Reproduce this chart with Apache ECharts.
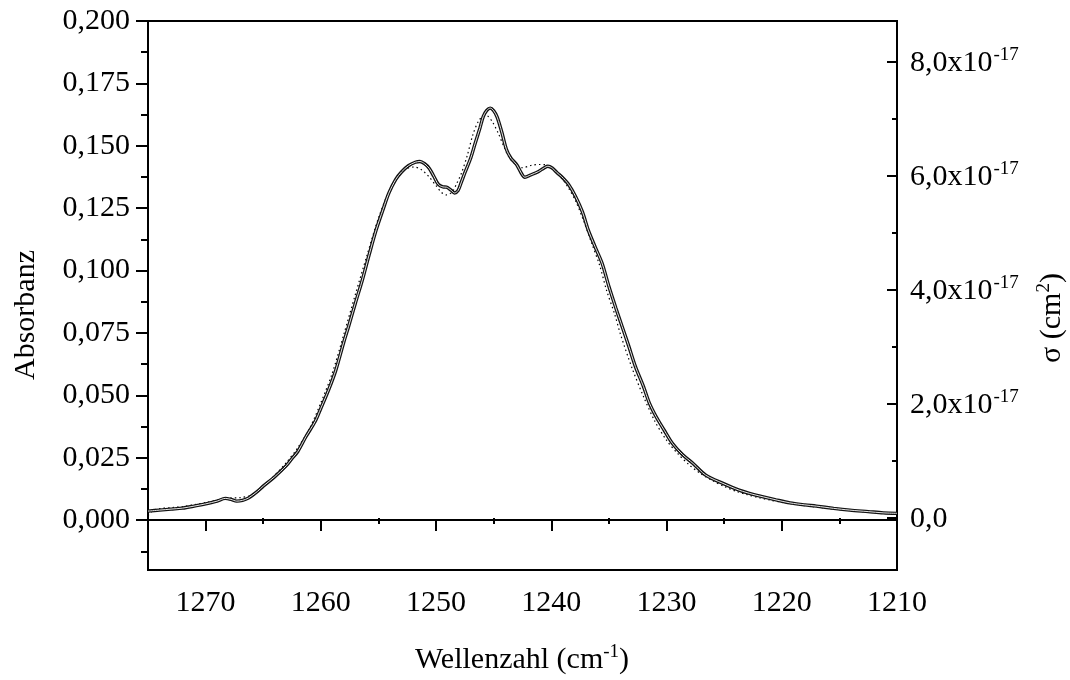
<!DOCTYPE html>
<html><head><meta charset="utf-8">
<script src="https://cdn.jsdelivr.net/npm/echarts@6/dist/echarts.min.js"></script>
<style>html,body{margin:0;padding:0;background:#fff}#c{width:1070px;height:680px}</style>
</head><body><div id="c"></div>
<script>
// Measured spectrum (solid, double line)
const wnSolid = [1275,1274,1273,1272,1271,1270,1269,1268.3,1267.8,1267.3,1266.8,1266.3,1265.5,1265,1264,1263,1262.5,1262,1261.3,1260.5,1260,1259.3,1258.7,1258,1257.6,1257,1256.4,1255.8,1255.2,1254.6,1254.1,1253.5,1253,1252.4,1251.8,1251.4,1251,1250.6,1250.2,1249.8,1249.4,1249.1,1248.7,1248.4,1248.1,1247.8,1247.5,1247,1246.6,1246.2,1245.9,1245.6,1245.3,1245,1244.7,1244.3,1243.9,1243.5,1243,1242.6,1242.3,1241.8,1241.1,1240.6,1240.3,1239.9,1239.5,1239.1,1238.5,1237.9,1237.3,1236.8,1236.2,1235.6,1235,1234.4,1233.85,1233.3,1232.7,1232,1231.5,1230.9,1230.2,1229.5,1228.6,1227.7,1226.6,1225.1,1223.7,1222.5,1221.6,1220.5,1219.3,1218,1217,1215.5,1214.1,1212.5,1211.2,1210];
const absSolid = [0.0036,0.0040,0.0044,0.0048,0.0056,0.0065,0.0076,0.0087,0.0083,0.0076,0.0079,0.0088,0.0115,0.0136,0.0174,0.0218,0.0247,0.0275,0.0334,0.0395,0.0448,0.0525,0.0601,0.0715,0.0775,0.0870,0.0962,0.1065,0.1163,0.1245,0.1310,0.1365,0.1395,0.1420,0.1434,0.1437,0.1428,0.1410,0.1378,0.1345,0.1335,0.1334,0.1322,0.1311,0.1320,0.1355,0.1392,0.1450,0.1511,0.1570,0.1618,0.1642,0.1651,0.1640,0.1615,0.1555,0.1486,0.1450,0.1424,0.1390,0.1374,0.1383,0.1397,0.1412,0.1418,0.1410,0.1392,0.1376,0.1345,0.1297,0.1235,0.1163,0.1095,0.1030,0.0936,0.0850,0.0775,0.0700,0.0615,0.0535,0.0470,0.0414,0.0360,0.0308,0.0262,0.0227,0.0180,0.0147,0.0120,0.0103,0.0093,0.0081,0.0069,0.0061,0.0056,0.0047,0.0040,0.0034,0.0029,0.0027];
// Second spectrum (dotted)
const wnDot = [1275,1274.5,1274,1273,1272,1271,1270,1269,1268,1267,1266,1265,1264,1263,1262,1261,1260,1259,1258,1257,1256,1255,1254,1253,1252.5,1251.9,1251.3,1250.6,1250,1249.5,1249.1,1248.6,1248.2,1247.8,1247.3,1246.8,1246.3,1245.8,1245.5,1245.1,1244.6,1244.1,1243.7,1243.1,1242.5,1241.7,1241,1240.5,1240,1239.1,1238.5,1237.9,1237.2,1236.5,1235.8,1235.2,1234.5,1234,1233,1232,1231,1230,1229,1228,1227,1226,1225,1224,1223,1222,1221,1220,1219,1218,1217,1216,1215,1214,1213,1212,1211,1210];
const absDot = [0.0018,0.0040,0.0046,0.0050,0.0054,0.0062,0.0070,0.0080,0.0088,0.0090,0.0100,0.0135,0.0180,0.0230,0.0290,0.0365,0.0470,0.0590,0.0745,0.0905,0.1060,0.1210,0.1325,0.1393,0.1410,0.1415,0.1405,0.1375,0.1340,0.1312,0.1303,0.1315,0.1350,0.1390,0.1460,0.1545,0.1600,0.1620,0.1618,0.1595,0.1550,0.1495,0.1457,0.1425,0.1412,0.1422,0.1425,0.1424,0.1410,0.1370,0.1330,0.1280,0.1200,0.1110,0.1020,0.0920,0.0825,0.0745,0.0610,0.0495,0.0395,0.0320,0.0265,0.0220,0.0185,0.0158,0.0135,0.0116,0.0102,0.0090,0.0080,0.0071,0.0064,0.0058,0.0052,0.0047,0.0042,0.0038,0.0034,0.0031,0.0028,0.0026];

const xMajor = [1270,1260,1250,1240,1230,1220,1210];
const xMinor = [1275,1265,1255,1245,1235,1225,1215];
const yMajor = [0,0.025,0.05,0.075,0.1,0.125,0.15,0.175,0.2];
const yMinor = [-0.0125,0.0125,0.0375,0.0625,0.0875,0.1125,0.1375,0.1625,0.1875];
const sMajor = [0,2,4,6,8];       // sigma ticks, units of 1e-17 cm^2
const sMinor = [1,3,5,7];

const FONT = '"Liberation Serif","Times New Roman",serif';
const FS = 30;
const SS = 19;
const LH = 33;
const chart = echarts.init(document.getElementById('c'));
const pairs = (a,b)=>a.map((v,i)=>[v,b[i]]);
const hide = {axisLine:{show:false},axisLabel:{show:false},splitLine:{show:false}};

chart.setOption({
  animation:false,
  backgroundColor:'#fff',
  grid:{left:148,right:173,top:21,bottom:110,show:true,borderColor:'#000',borderWidth:2,backgroundColor:'transparent'},
  xAxis:[
    {type:'value',inverse:true,min:1210,max:1275,
     axisLine:{show:true,lineStyle:{color:'#000',width:2}},
     axisTick:{show:true,customValues:xMajor,length:11,inside:false,lineStyle:{color:'#000',width:2}},
     axisLabel:{customValues:xMajor,margin:18,color:'#000',fontFamily:FONT,fontSize:FS,formatter:v=>String(v)},
     splitLine:{show:false}},
    Object.assign({type:'value',inverse:true,min:1210,max:1275,position:'bottom',
     axisTick:{show:true,customValues:xMinor,length:6,inside:false,lineStyle:{color:'#000',width:2}}},hide)
  ],
  yAxis:[
    {type:'value',min:-0.02,max:0.2,position:'left',
     axisLine:{show:true,lineStyle:{color:'#000',width:2}},
     axisTick:{show:true,customValues:yMajor,length:12,inside:false,lineStyle:{color:'#000',width:2}},
     axisLabel:{customValues:yMajor,margin:18,color:'#000',fontFamily:FONT,fontSize:FS,
       formatter:v=>v.toFixed(3).replace('.',',')},
     splitLine:{show:false}},
    {type:'value',min:-0.912,max:8.714,position:'right',
     axisLine:{show:true,lineStyle:{color:'#000',width:2}},
     axisTick:{show:true,customValues:sMajor,length:10,inside:true,lineStyle:{color:'#000',width:2}},
     axisLabel:{customValues:sMajor,margin:13,color:'#000',fontFamily:FONT,fontSize:FS,
       formatter:v=>v===0?'{a|0,0}':'{a|'+v.toFixed(1).replace('.',',')+'x10}{b|-17}',
       rich:{a:{fontFamily:FONT,fontSize:FS,color:'#000',lineHeight:LH,verticalAlign:'bottom'},
             b:{fontFamily:FONT,fontSize:SS,color:'#000',lineHeight:LH,verticalAlign:'top',padding:[0,0,0,1]}}},
     splitLine:{show:false}},
    Object.assign({type:'value',min:-0.02,max:0.2,position:'left',
     axisTick:{show:true,customValues:yMinor,length:7,inside:false,lineStyle:{color:'#000',width:2}}},hide),
    Object.assign({type:'value',min:-0.912,max:8.714,position:'right',
     axisTick:{show:true,customValues:sMinor,length:5,inside:true,lineStyle:{color:'#000',width:2}}},hide)
  ],
  graphic:[
    {type:'text',x:26,y:315,rotation:Math.PI/2,style:{text:'Absorbanz',fontFamily:FONT,fontSize:FS,fill:'#000',align:'center',verticalAlign:'middle'}},
    {type:'text',x:1051,y:318,rotation:Math.PI/2,style:{text:'{n|σ (cm}{s|2}{n|)}',align:'center',verticalAlign:'middle',
      rich:{n:{fontFamily:FONT,fontSize:FS,fill:'#000',lineHeight:LH,verticalAlign:'bottom'},s:{fontFamily:FONT,fontSize:SS,fill:'#000',lineHeight:LH,verticalAlign:'top'}}}},
    {type:'text',x:522,y:659,style:{text:'{n|Wellenzahl (cm}{s|-1}{n|)}',align:'center',verticalAlign:'middle',
      rich:{n:{fontFamily:FONT,fontSize:FS,fill:'#000',lineHeight:LH,verticalAlign:'bottom'},s:{fontFamily:FONT,fontSize:SS,fill:'#000',lineHeight:LH,verticalAlign:'top'}}}}
  ],
  series:[
    {type:'line',xAxisIndex:0,yAxisIndex:0,data:pairs(wnDot,absDot),showSymbol:false,smooth:0.3,
     lineStyle:{color:'#000',width:1.2,type:[1.5,3]},z:2},
    {type:'line',xAxisIndex:0,yAxisIndex:0,data:pairs(wnSolid,absSolid),showSymbol:false,smooth:0.3,
     lineStyle:{color:'#111',width:3.4},z:3},
    {type:'line',xAxisIndex:0,yAxisIndex:0,data:pairs(wnSolid,absSolid),showSymbol:false,smooth:0.3,
     lineStyle:{color:'#e6e6e6',width:1},z:4}
  ]
});
</script></body></html>
